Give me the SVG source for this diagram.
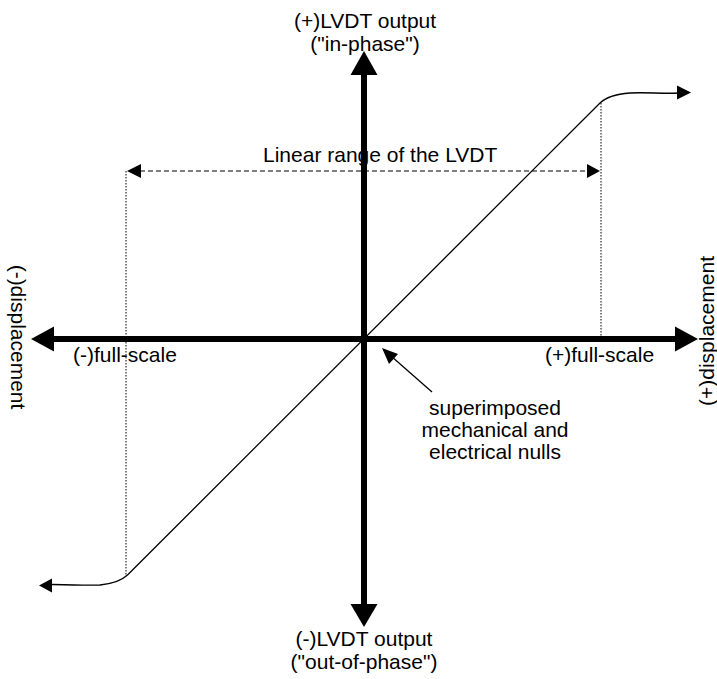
<svg xmlns="http://www.w3.org/2000/svg" width="717" height="679" viewBox="0 0 717 679">
<style>
  text { font-family: "Liberation Sans", Arial, sans-serif; font-size: 21px; fill: #000; }
  .axis { stroke: #000; stroke-width: 6; fill: none; }
  .thin { stroke: #000; stroke-width: 1.3; fill: none; }
  .dot { stroke: #000; stroke-width: 1; stroke-dasharray: 1.5 1.5; fill: none; }
  .dash { stroke: #000; stroke-width: 1.2; stroke-dasharray: 5 3; fill: none; }
  .head { fill: #000; stroke: none; }
</style>
<rect width="717" height="679" fill="#fff"/>
<g id="connectors">
  <line class="dot" x1="126" y1="171" x2="126" y2="576"/>
  <line class="dot" x1="601" y1="103" x2="601" y2="339"/>
  <line class="dash" x1="140" y1="171" x2="588" y2="171"/>
  <polygon class="head" points="127,171 141,164 141,178"/>
  <polygon class="head" points="600,171 587,164 587,178"/>
  <path class="thin" d="M52,584.5 C70,585 90,585.5 100,585 C110,584 120,582 127.5,575 L600,103 C606,97 618,94 630,93 C645,92 665,94 678,93"/>
  <polygon class="head" points="39,585.5 52,578.5 52,592.5"/>
  <polygon class="head" points="691,92.5 677,85.5 677,99.5"/>
  <line class="thin" x1="432" y1="392" x2="391" y2="356"/>
  <polygon class="head" points="382,348 398,354 389,364"/>
</g>
<g id="axis-x">
  <line class="axis" x1="52" y1="339" x2="676" y2="339"/>
  <polygon class="head" points="31,339 54,326.5 54,351.5"/>
  <polygon class="head" points="698,339 675,326.5 675,351.5"/>
</g>
<g id="axis-y">
  <line class="axis" x1="364" y1="73" x2="364" y2="606"/>
  <polygon class="head" points="364,51 350.5,75 377.5,75"/>
  <polygon class="head" points="364,627 350.5,604 377.5,604"/>
</g>
<g id="label-top">
  <text x="365" y="28" text-anchor="middle">(+)LVDT output</text>
  <text x="365" y="50.5" text-anchor="middle">("in-phase")</text>
</g>
<g id="label-bottom">
  <text x="364" y="645.5" text-anchor="middle">(-)LVDT output</text>
  <text x="364" y="668.5" text-anchor="middle">("out-of-phase")</text>
</g>
<g id="label-left">
  <text x="11" y="337" text-anchor="middle" transform="rotate(90 11 337)">(-)displacement</text>
</g>
<g id="label-right">
  <text x="714" y="331" text-anchor="middle" transform="rotate(-90 714 331)">(+)displacement</text>
</g>
<g id="label-neg-fs">
  <text x="73" y="362">(-)full-scale</text>
</g>
<g id="label-pos-fs">
  <text x="545" y="362">(+)full-scale</text>
</g>
<g id="label-linear">
  <text x="263" y="162">Linear range of the LVDT</text>
</g>
<g id="label-nulls">
  <text x="495" y="415" text-anchor="middle">superimposed</text>
  <text x="495" y="437" text-anchor="middle">mechanical and</text>
  <text x="495" y="459" text-anchor="middle">electrical nulls</text>
</g>
</svg>
